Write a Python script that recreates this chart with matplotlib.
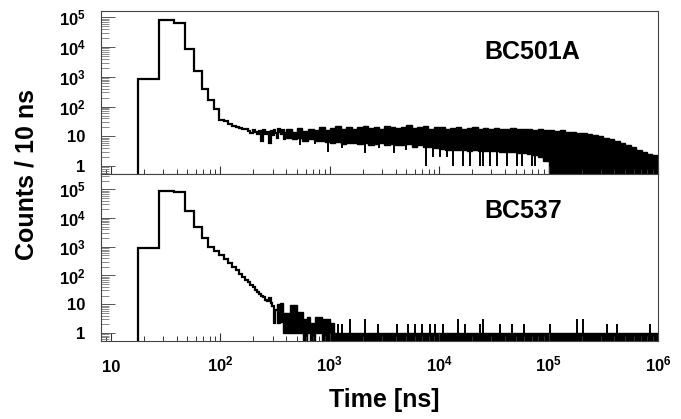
import numpy as np
import matplotlib
matplotlib.use("Agg")
import matplotlib.pyplot as plt
from matplotlib.ticker import LogLocator, NullFormatter

# ---------------- data (counts per 10 ns bin) ----------------
BIN_W = 10  # ns

# BC501A: resolved 10-ns bins (bin start times, ns)
top_bin_start = [7.5, 17.5, 27.5, 37.5, 47.5, 57.5, 67.5, 77.5, 87.5, 97.5, 107.5,
                 117.5, 127.5, 137.5, 147.5, 157.5, 167.5, 177.5, 187.5, 197.5,
                 207.5, 217.5, 227.5, 237.5, 247.5, 257.5, 267.5, 277.5, 287.5,
                 297.5, 307.5, 317.5, 327.5, 337.5, 347.5, 357.5, 367.5, 377.5,
                 387.5]
top_counts = [0, 870, 84000, 66000, 8900, 1550, 380, 165, 80, 36, 33, 26, 22, 21, 19,
              17, 18, 15, 13, 16, 14, 12, 15, 7, 16, 12, 14, 6, 15, 11, 16, 13, 9,
              17, 14, 12, 16, 8, 13]

# BC501A: dense tail, max / min counts within groups of bins
top_tail_edges = [397.5, 450, 500, 560, 630, 710, 800, 900,
                  1000, 1120, 1260, 1410, 1580, 1780, 2000, 2240, 2510, 2820, 3160,
                  3550, 3980, 4470, 5010, 5620, 6310, 7080, 7940, 8910,
                  10000, 11200, 12600, 14100, 15800, 17800, 20000, 22400, 25100,
                  28200, 31600, 35500, 39800, 44700, 50100, 56200, 63100, 70800,
                  79400, 89100,
                  100000, 112000, 126000, 141000, 158000, 178000, 200000, 224000,
                  251000, 282000, 316000, 355000, 398000, 447000, 501000, 562000,
                  631000, 708000, 794000, 891000, 1000000]
top_tail_max = [17, 14, 19, 15, 18, 16, 20, 16,
                19, 22, 17, 21, 18, 20, 23, 19, 21, 18, 22, 20, 19, 21, 24, 19, 20, 22, 18, 21,
                20, 18, 19, 21, 18, 19, 20, 18, 19, 18, 19, 17, 18, 19, 17, 18, 17, 16, 17, 16,
                16, 15, 16, 14, 14, 13, 13, 12, 11, 10, 9, 8, 7, 6, 5, 4.4, 3.6, 3.0, 2.5, 2.3]
top_tail_min = [9, 8, 9, 7, 8, 7, 7, 6.5,
                6, 6.5, 5.5, 6, 6, 5.5, 6, 5, 5.5, 6, 5, 5.5, 5, 5, 5.5, 4.5, 5, 4.5, 4.5, 4,
                3.8, 3.6, 3.5, 3.4, 3.5, 3.3, 3.4, 3.2, 3.3, 3.1, 3.2, 3, 3, 2.9, 2.8, 2.7,
                2.5, 2.3, 2.0, 1.5,
                0, 0, 0, 0, 0, 0, 0, 0, 0, 0, 0, 0, 0, 0, 0, 0, 0, 0, 0, 0]
# isolated low bins below the band (time ns, counts)
top_dip_t = [535, 730, 960, 1300, 2100, 2800, 3900, 5000, 7600, 8800, 10200, 11800,
             13400, 16500, 19100, 23600, 25100, 29100, 33700, 41700, 51300, 57000,
             70500, 75000]
top_dip_c = [5, 5.5, 3, 4, 2.7, 4, 2.7, 3.5, 1, 2, 2, 2, 1, 1, 1, 1, 1, 1, 1, 1, 1,
             1, 1, 1]

# BC537: resolved 10-ns bins
bot_bin_start = [7.5, 17.5, 27.5, 37.5, 47.5, 57.5, 67.5, 77.5, 87.5, 97.5, 107.5,
                 117.5, 127.5, 137.5, 147.5, 157.5, 167.5, 177.5, 187.5, 197.5,
                 207.5, 217.5, 227.5, 237.5, 247.5, 257.5, 267.5, 277.5, 287.5,
                 297.5, 307.5, 317.5]
bot_counts = [0, 920, 87000, 80000, 17400, 4900, 2000, 1000, 690, 500, 370, 270, 195,
              153, 115, 91, 71, 61, 48, 39, 32, 27, 23, 19, 18, 14, 13, 17, 11, 8.8,
              2.2, 6.3]
# BC537: tail
bot_tail_edges = [327.5, 350, 370, 430, 500, 570, 620, 660, 730, 850, 1000, 1100, 1000000]
bot_tail_max = [10, 11, 5, 9.5, 5.5, 3, 3.7, 2.2, 3.7, 3, 2.2, 1]
bot_tail_min = [2.2, 2.5, 1, 1, 1, 0, 1, 0, 1, 0, 0, 0]
# isolated higher bins above the band (time ns, counts)
bot_peak_t = [1000, 1200, 1280, 1530, 2100, 2780, 4080, 5200, 6000, 6900, 8200, 9200,
              10900, 15000, 17200, 23600, 25300, 36000, 46000, 59000, 103000, 181000,
              207000, 340000, 420000, 850000]
bot_peak_c = [3, 2, 2, 3, 3, 2, 2, 2, 2, 2, 2, 2, 2, 3, 2, 2, 3, 2, 2, 2, 2, 3, 3, 2,
              2, 2]

x_ticks = [10, 1e2, 1e3, 1e4, 1e5, 1e6]
x_ticklabels = ["10", "$10^{2}$", "$10^{3}$", "$10^{4}$", "$10^{5}$", "$10^{6}$"]
y_ticks = [1, 10, 1e2, 1e3, 1e4, 1e5]
y_ticklabels = ["1", "10", "$10^{2}$", "$10^{3}$", "$10^{4}$", "$10^{5}$"]

# ---------------- style ----------------
plt.rcParams.update({
    "font.family": ["Liberation Sans", "DejaVu Sans"],
    "font.weight": "bold",
    "mathtext.fontset": "custom",
    "mathtext.rm": "Liberation Sans:bold",
    "mathtext.bf": "Liberation Sans:bold",
    "mathtext.it": "Liberation Sans:bold:italic",
    "mathtext.default": "rm",
})

fig = plt.figure(figsize=(6.81, 4.19), dpi=100)
ax1 = fig.add_axes([0.1483, 0.5847, 0.8179, 0.389])
ax2 = fig.add_axes([0.1483, 0.1862, 0.8179, 0.3986])

XLIM = (8.1, 1e6)
YLIM1 = (0.54, 1.63e5)
YLIM2 = (0.525, 3.4e5)


def floor(v, ylim):
    v = np.asarray(v, dtype=float)
    return np.where(v > 0, v, ylim[0] * 0.3)


def draw(ax, starts, counts, tedges, tmax, tmin, ylim):
    edges = np.array(list(starts) + [starts[-1] + BIN_W], dtype=float)
    ax.stairs(floor(counts, ylim), edges, color="black", lw=1.6, baseline=None)
    ax.stairs(floor(tmax, ylim), np.array(tedges, dtype=float),
              baseline=floor(tmin, ylim), fill=True, facecolor="black",
              edgecolor="black", lw=1.0)


draw(ax1, top_bin_start, top_counts, top_tail_edges, top_tail_max, top_tail_min, YLIM1)
ax1.vlines(top_dip_t, top_dip_c, 8, colors="black", lw=1.4)

draw(ax2, bot_bin_start, bot_counts, bot_tail_edges, bot_tail_max, bot_tail_min, YLIM2)
ax2.vlines(bot_peak_t, 1, bot_peak_c, colors="black", lw=1.4)

for ax, yl in ((ax1, YLIM1), (ax2, YLIM2)):
    ax.set_xscale("log")
    ax.set_yscale("log")
    ax.set_xlim(*XLIM)
    ax.set_ylim(*yl)
    ax.set_yticks(y_ticks)
    ax.set_yticklabels(y_ticklabels)
    ax.yaxis.set_minor_locator(LogLocator(base=10, subs=np.arange(2, 10), numticks=30))
    ax.yaxis.set_minor_formatter(NullFormatter())
    ax.set_xticks(x_ticks)
    ax.xaxis.set_minor_locator(LogLocator(base=10, subs=np.arange(2, 10), numticks=30))
    ax.xaxis.set_minor_formatter(NullFormatter())
    ax.tick_params(axis="y", which="major", direction="in", length=10, width=0.7,
                   color="#555555", right=False, labelsize=12, pad=11)
    ax.tick_params(axis="y", which="minor", direction="in", length=6, width=0.6,
                   color="#777777", right=False)
    ax.tick_params(axis="x", which="major", direction="in", length=6, width=0.8,
                   color="#333333", top=False, labelsize=12, pad=22)
    ax.tick_params(axis="x", which="minor", direction="in", length=3.5, width=0.7,
                   color="#333333", top=False)
    for s in ax.spines.values():
        s.set_linewidth(0.8)
        s.set_color("#444444")

ax1.set_xticklabels([])
ax1.tick_params(axis="x", which="both", labelbottom=False)
ax2.set_xticklabels(x_ticklabels, va="baseline")

ax1.text(0.689, 0.748, "BC501A", transform=ax1.transAxes, fontsize=18,
         fontweight="bold", ha="left", va="center")
ax2.text(0.689, 0.778, "BC537", transform=ax2.transAxes, fontsize=18,
         fontweight="bold", ha="left", va="center")

fig.text(384 / 681, 1 - 400 / 419, "Time [ns]", ha="center", va="center",
         fontsize=18, fontweight="bold")
fig.text(27 / 681, 1 - 175 / 419, "Counts / 10 ns", ha="center", va="center",
         rotation=90, fontsize=18, fontweight="bold")

fig.savefig("out.png", dpi=100)
